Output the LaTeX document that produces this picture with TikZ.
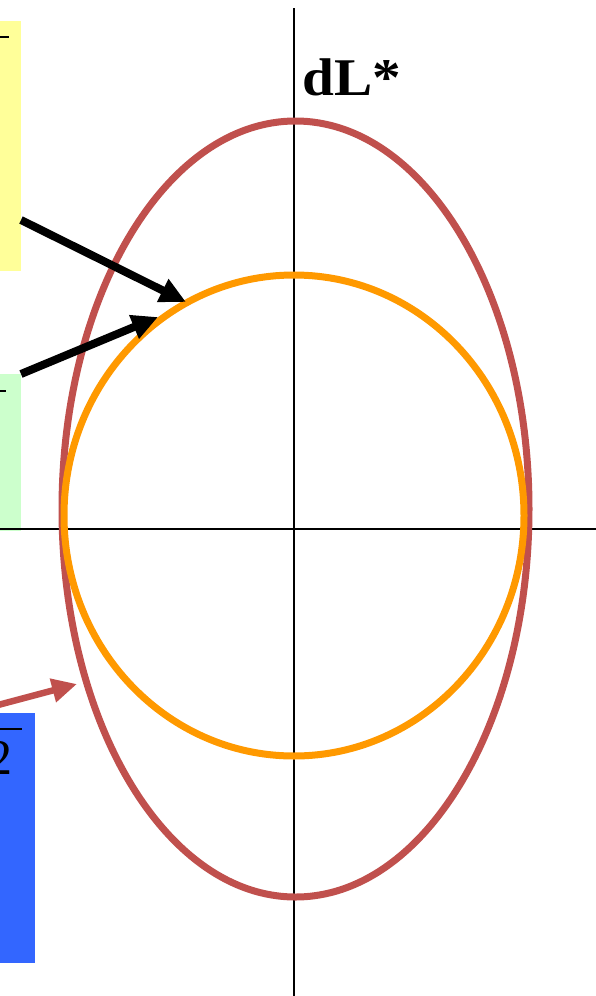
\documentclass[tikz,border=0pt]{standalone}
\usepackage{fontspec}
\setmainfont{Liberation Serif}
\usetikzlibrary{arrows.meta}
\definecolor{ellred}{HTML}{C0504D}
\definecolor{circorange}{HTML}{FF9900}
\definecolor{boxyellow}{HTML}{FFFF99}
\definecolor{boxgreen}{HTML}{CCFFCC}
\definecolor{boxblue}{HTML}{3366FF}
\tikzset{
  box/.style={inner sep=0pt, outer sep=0pt, anchor=north west},
  axis/.style={line width=2.4pt, black},
  curve/.style={line width=7pt},
  blackarrow/.style={line width=8pt, black, -{Triangle[length=26pt,width=24pt]}},
  redarrow/.style={line width=6.5pt, ellred, -{Triangle[length=25pt,width=23pt]}},
  bar/.style={line width=2.2pt, black},
}
\begin{document}
\begin{tikzpicture}[x=1pt,y=-1pt]
\useasboundingbox (0,0) rectangle (596,996);
\clip (0,0) rectangle (596,996);
% boxes
\node[box, fill=boxyellow, minimum width=21pt, minimum height=250pt] (yellow) at (0,21) {};
\node[box, fill=boxgreen, minimum width=21pt, minimum height=157pt] (green) at (0,374) {};
\node[box, fill=boxblue, minimum width=35pt, minimum height=250pt] (blue) at (0,713) {};
% text fragments at left edge
\draw[bar] (0,37) -- (9,37);
\draw[bar] (0,391) -- (6,391);
\draw[line width=2pt] (-10,729) -- (22,729);
\node[inner sep=0pt, anchor=east, font=\fontsize{50}{50}\selectfont] (two) at (13,758) {2};
% axes
\coordinate (vtop) at (294,8);
\coordinate (vbot) at (294,996);
\coordinate (hleft) at (0,529);
\coordinate (hright) at (596,529);
\draw[axis] (vtop) -- (vbot);
\draw[axis] (hleft) -- (hright);
% curves
\draw[curve, ellred] (295.5,509) ellipse [x radius=233.5pt, y radius=388pt];
\draw[curve, circorange] (294,515.5) ellipse [x radius=230pt, y radius=240.5pt];
% label
\node[anchor=base west, inner sep=0pt, xscale=1.08, font=\fontsize{53}{53}\selectfont\bfseries] (dl) at (302,95) {dL*};
% arrows
\coordinate (t1) at (186,302);
\coordinate (t2) at (158,317);
\coordinate (t3) at (77,684);
\coordinate (s1) at (21,220);
\coordinate (s2) at (21,374);
\coordinate (s3) at (-2,705);
\draw[blackarrow] (s1) -- (t1);
\draw[blackarrow] (s2) -- (t2);
\draw[redarrow] (s3) -- (t3);
\end{tikzpicture}
\end{document}
